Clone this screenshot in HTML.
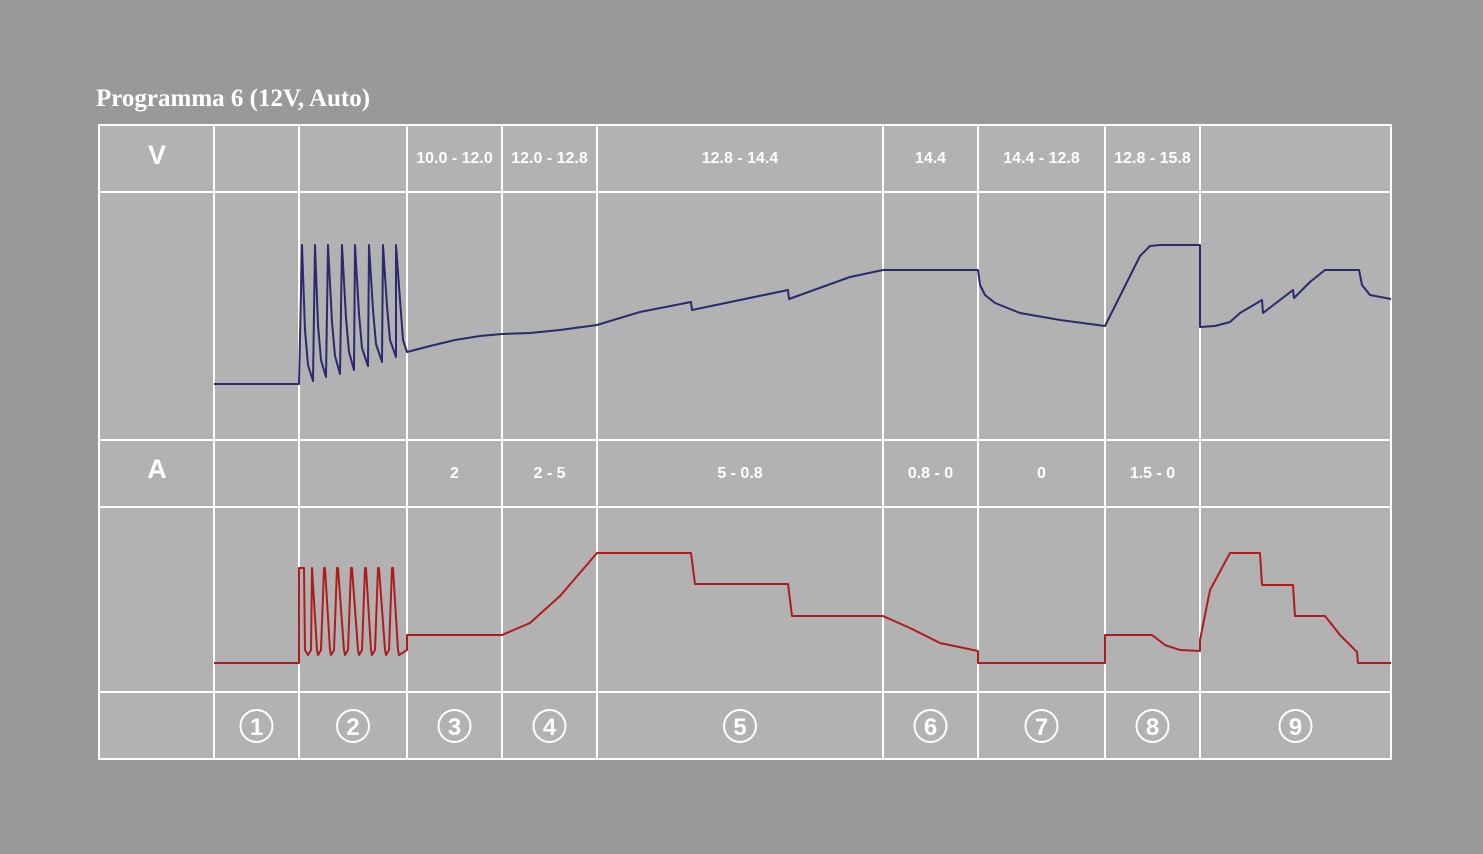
<!DOCTYPE html>
<html><head><meta charset="utf-8"><style>
body{margin:0;background:#999999;width:1483px;height:854px;overflow:hidden}
svg{display:block}
text{font-family:"Liberation Sans",Arial,sans-serif;fill:#fff}
</style></head><body>
<svg id="chart" width="1483" height="854" viewBox="0 0 1483 854">
<rect x="0" y="0" width="1483" height="854" fill="#999999"/>
<text x="96" y="106" style="font-family:'Liberation Serif',serif;font-weight:bold;font-size:25px">Programma 6 (12V, Auto)</text>
<rect x="99" y="125" width="1292" height="634" fill="#b2b2b2" stroke="#fff" stroke-width="2"/>
<g id="grid"></g>
<g id="labels"></g>
<path id="vline" fill="none" stroke="#2b2a6e" stroke-width="2" stroke-linejoin="round"/>
<path id="aline" fill="none" stroke="#b01c1c" stroke-width="2" stroke-linejoin="round"/>
</svg>
<script>
const colEdges=[99,214,299,407,502,597,883,978,1105,1200,1391];
const rowEdges=[125,192,440,507,692,759];
const stages=["1","2","3","4","5","6","7","8","9"];
const voltLabels=["","","10.0 - 12.0","12.0 - 12.8","12.8 - 14.4","14.4","14.4 - 12.8","12.8 - 15.8",""];
const ampLabels=["","","2","2 - 5","5 - 0.8","0.8 - 0","0","1.5 - 0",""];
// Voltage: time (px from left of table), value (px above row line 440)
const vT=[115,200,
 203,206,209,214, 216,219,222,227, 229,233,236,241, 243,247,250,255,
 256,260,263,269, 270,274,277,283, 284,288,291,297, 297,301,304,308,
 331,356,381,403,431,461,498,541,592,593,689,690,751,784,
 879,881,886,896,921,961,1006,
 1041,1051,1061,1101,1101,
 1116,1131,1141,1163,1164,1194,1195,1211,1226,1260,1263,1271,1292];
const vV=[56,56,
 195,110,75,59, 195,115,80,63, 195,118,84,66, 195,122,88,70,
 195,126,92,74, 195,130,96,78, 195,134,100,83, 195,140,100,88,
 94,100,104,106,107,110,115,128,138,130,150,141,163,170,
 170,155,145,137,127,120,114,
 184,194,195,195,113,
 114,118,127,140,127,150,142,158,170,170,155,145,141];
// Current: value (px above row line 692)
const aT=[115,200,200,205,206,209,212,213,213,218,219,222,225,226,226,231,232,235,238,239,239,245,246,249,252,253,253,259,260,263,266,267,267,272,273,276,279,280,280,286,287,290,293,294,294,299,300,308,308,403,431,461,498,592,596,689,693,784,811,841,879,879,1006,1006,1053,1066,1081,1101,1101,1111,1131,1161,1163,1194,1196,1226,1241,1258,1259,1292];
const aV=[29,29,124,124,42,37,42,124,124,42,37,42,124,124,124,42,37,42,124,124,124,42,37,42,124,124,124,42,37,42,124,124,124,42,37,42,124,124,124,42,37,42,124,124,124,42,37,42,57,57,69,96,139,139,108,108,76,76,64,49,41,29,29,57,57,47,42,41,52,102,139,139,107,107,76,76,57,40,29,29];
const X0=99;
const xs=t=>X0+t;
const yV=v=>440-v, yA=v=>692-v;
const ns="http://www.w3.org/2000/svg";
const grid=document.getElementById('grid'), lab=document.getElementById('labels');
colEdges.slice(1,-1).forEach(x=>{const l=document.createElementNS(ns,'line');l.setAttribute('x1',x);l.setAttribute('x2',x);l.setAttribute('y1',125);l.setAttribute('y2',759);l.setAttribute('stroke','#fff');l.setAttribute('stroke-width','2');


grid.appendChild(l);});
rowEdges.slice(1,-1).forEach(y=>{const l=document.createElementNS(ns,'line');l.setAttribute('x1',99);l.setAttribute('x2',1391);l.setAttribute('y1',y);l.setAttribute('y2',y);l.setAttribute('stroke','#fff');l.setAttribute('stroke-width','2');


grid.appendChild(l);});
function txt(x,y,s,size,name,weight){const t=document.createElementNS(ns,'text');t.setAttribute('x',x);t.setAttribute('y',y);t.setAttribute('text-anchor','middle');t.setAttribute('font-size',size);if(weight)t.setAttribute('font-weight',weight);t.textContent=s;


lab.appendChild(t);return t;}
txt(157,164,"V",27,'volt-row-header','bold');
txt(157,478,"A",27,'amp-row-header','bold');
for(let i=0;i<9;i++){
 const cx=(colEdges[i+1]+colEdges[i+2])/2;
 if(voltLabels[i])txt(cx,163,voltLabels[i],16,'voltage-range-label','bold');
 if(ampLabels[i])txt(cx,478,ampLabels[i],16,'current-range-label','bold');
 const c=document.createElementNS(ns,'circle');c.setAttribute('cx',cx);c.setAttribute('cy',726);c.setAttribute('r',16);c.setAttribute('fill','none');c.setAttribute('stroke','#fff');c.setAttribute('stroke-width','2');
 
 
 lab.appendChild(c);
 txt(cx,735,stages[i],24,'stage-number','bold');
}
document.getElementById('vline').setAttribute('d',vT.map((t,i)=>(i?'L':'M')+xs(t)+' '+yV(vV[i])).join(''));
document.getElementById('aline').setAttribute('d',aT.map((t,i)=>(i?'L':'M')+xs(t)+' '+yA(aV[i])).join(''));
</script>
</body></html>
